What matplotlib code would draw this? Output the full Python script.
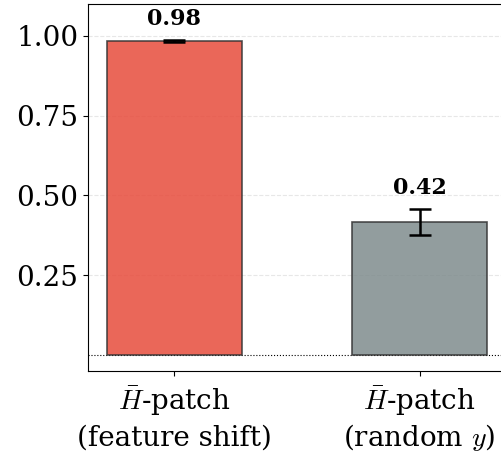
import matplotlib
matplotlib.use("Agg")
import matplotlib.pyplot as plt
import numpy as np

categories_line1 = [r"$\bar{H}$-patch", r"$\bar{H}$-patch"]
categories_line2 = ["(feature shift)", "(random $y$)"]
values = [0.985, 0.417]
errors = [0.003, 0.042]
labels = ["0.98", "0.42"]
colors = ["#e74c3c", "#7f8c8d"]

plt.rcParams["font.family"] = "DejaVu Serif"
plt.rcParams["mathtext.fontset"] = "cm"

fig = plt.figure(figsize=(5.02, 4.51), dpi=100)
ax = fig.add_axes([88/502, 1 - 371/451, (506-88)/502, (371-4)/451])
x = np.arange(len(values))
ax.bar(x, values, width=0.55, color=colors, alpha=0.85, edgecolor="#333333", linewidth=1.2,
       yerr=errors, capsize=8, error_kw=dict(elinewidth=1.8, capthick=1.8, ecolor="black"), zorder=3)
for xi, v, e, lab in zip(x, values, errors, labels):
    ax.text(xi, v + e + 0.03, lab, ha="center", va="bottom", fontsize=16, fontweight="bold")
ax.axhline(0, color="black", linestyle=":", linewidth=0.8, zorder=2)
ax.set_ylim(-0.05, 1.1)
ax.set_xticks(x)
ax.set_xticklabels(["", ""])
trans = ax.get_xaxis_transform()
base1 = (371 - 410) / 367
base2 = (371 - 446) / 367
for xi, l1, l2 in zip(x, categories_line1, categories_line2):
    ax.text(xi, base1, l1, ha="center", va="baseline", fontsize=20, transform=trans, clip_on=False)
    ax.text(xi, base2, l2, ha="center", va="baseline", fontsize=20, transform=trans, clip_on=False)
ax.set_yticks([0.25, 0.5, 0.75, 1.0])
ax.set_yticklabels(["0.25", "0.50", "0.75", "1.00"], fontsize=20)
ax.yaxis.grid(True, linestyle="--", alpha=0.3, zorder=0)
ax.set_axisbelow(True)
fig.savefig("out.png", dpi=100)
